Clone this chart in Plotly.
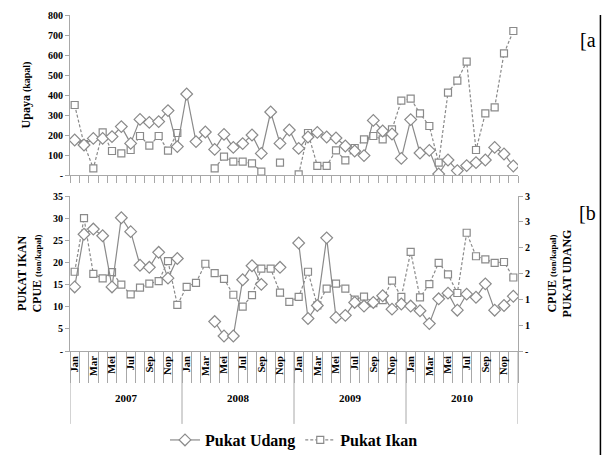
import plotly.graph_objects as go

years = ["2007", "2008", "2009", "2010"]
month_labels = ["Jan", "Mar", "Mei", "Jul", "Sep", "Nop"]

# Upaya (kapal) per month, Jan 2007 .. Des 2010
effort_udang = [175, 150, 183, 183, 192, 242, 158, 278, 263, 267, 322, 142,
                405, 167, 215, 128, 203, 138, 157, 200, 108, 315, 158, 225,
                133, 190, 213, 190, 185, 145, 120, 97, 273, 220, 205, 83,
                277, 110, 123, 5, 75, 22, 47, 62, 75, 138, 105, 45]
effort_ikan = [350, 155, 33, 213, 120, 108, 125, 195, 147, 195, 122, 210,
               None, None, None, 33, 92, 67, 67, 58, 17, None, 62, None,
               3, 210, 46, 46, 123, 73, 135, 178, 195, 178, 228, 372,
               382, 308, 245, 62, 412, 472, 567, 125, 308, 338, 608, 720]

# CPUE (ton/kapal)
cpue_ikan = [17.9, 30.0, 17.4, 16.4, 17.8, 15.0, 12.8, 14.3, 15.2, 15.8, 20.3, 10.4,
             14.5, 15.4, 19.7, 17.6, 16.3, 12.7, 10.0, 12.6, 18.6, 18.6, 13.2, 11.1,
             12.2, 17.9, 10.3, 14.1, 15.2, 14.1, 11.6, 12.3, 10.8, 11.5, 15.9, 12.2,
             22.4, 12.1, 15.1, 19.9, 17.3, 13.1, 26.7, 21.4, 20.7, 19.9, 20.1, 16.6]
cpue_udang = [1.24, 2.26, 2.36, 2.23, 1.24, 2.58, 2.31, 1.66, 1.62, 1.91, 1.41, 1.79,
              None, None, None, 0.57, 0.29, 0.29, 1.38, 1.65, 1.29, None, 1.62, None,
              2.09, 0.63, 0.88, 2.19, 0.65, 0.69, 0.94, 0.87, 0.94, 1.07, 0.81, 0.91,
              0.87, 0.78, 0.53, 1.01, 1.12, 0.79, 1.10, 1.04, 1.30, 0.79, 0.88, 1.06]

left_ticks_top = [0, 100, 200, 300, 400, 500, 600, 700, 800]
left_ticks_bot = [0, 5, 10, 15, 20, 25, 30, 35]
right_ticks = [0, 0.5, 1.0, 1.5, 2.0, 2.5, 3.0]
right_ticktext = ["-", "1", "1", "2", "2", "3", "3"]

n = len(effort_udang)
x = list(range(n))
GRAY = "#8a8a8a"
AX = "#a8a8a8"
SERIF = "Liberation Serif"

fig = go.Figure()

def udang(xv, yv, xa, ya, show):
    return go.Scatter(x=xv, y=yv, xaxis=xa, yaxis=ya, mode="lines+markers",
                      name="Pukat Udang", showlegend=show, legendgroup="u",
                      line=dict(color=GRAY, width=1.2),
                      marker=dict(symbol="diamond", size=9, color="white",
                                  line=dict(color=GRAY, width=1.2)))

def ikan(xv, yv, xa, ya, show):
    return go.Scatter(x=xv, y=yv, xaxis=xa, yaxis=ya, mode="lines+markers",
                      name="Pukat Ikan", showlegend=show, legendgroup="i",
                      line=dict(color=GRAY, width=1.2, dash="3px,2px"),
                      marker=dict(symbol="square", size=7, color="white",
                                  line=dict(color=GRAY, width=1.2)))

fig.add_trace(ikan(x, effort_ikan, "x", "y", False))
fig.add_trace(udang(x, effort_udang, "x", "y", True))
fig.add_trace(ikan(x, cpue_ikan, "x2", "y2", True))
fig.add_trace(udang(x, cpue_udang, "x2", "y3", False))

tickfont = dict(family=SERIF, size=10, color="black", weight="bold")

month_vals = [i for i in x if i % 2 == 0]
month_text = [month_labels[(i % 12) // 2] for i in month_vals]

common_x = dict(range=[-0.5, n - 0.5], showgrid=False, zeroline=False,
                showline=True, linecolor=AX, linewidth=1, automargin=False)

fig.update_layout(
    width=603, height=455,
    margin=dict(l=70, r=85, t=15, b=104, autoexpand=False),
    plot_bgcolor="white", paper_bgcolor="white",
    font=dict(family=SERIF, color="black"),
    xaxis=dict(**common_x, domain=[0, 1], anchor="y", showticklabels=False,
               ticks="", minor=dict(ticks="outside", tick0=-0.5, dtick=1,
                                    ticklen=7, tickcolor=AX, tickwidth=1)),
    yaxis=dict(domain=[0.5238, 1.0], range=[0, 800], tickvals=left_ticks_top,
               ticktext=["-"] + [str(v) for v in left_ticks_top[1:]],
               showgrid=False, zeroline=False, showline=True, linecolor=AX,
               ticks="outside", ticklen=4, tickcolor=AX, tickfont=tickfont,
               automargin=False,
               title=dict(text="<b>Upaya</b> <span style='font-size:10px'><b>(kapal)</b></span>",
                          font=dict(family=SERIF, size=12), standoff=14)),
    xaxis2=dict(**common_x, domain=[0, 1], anchor="y2", tickvals=month_vals,
                ticktext=month_text, tickangle=-90, ticks="",
                tickfont=dict(family=SERIF, size=10.5, color="black", weight="bold"),
                minor=dict(ticks="outside", tick0=-0.5, dtick=1, ticklen=31,
                           tickcolor=AX, tickwidth=1)),
    yaxis2=dict(domain=[0, 0.4613], range=[0, 35], tickvals=left_ticks_bot,
                ticktext=["-"] + [str(v) for v in left_ticks_bot[1:]],
                showgrid=False, zeroline=False, showline=True, linecolor=AX,
                ticks="outside", ticklen=4, tickcolor=AX, tickfont=tickfont,
                automargin=False,
                title=dict(text="<b>PUKAT IKAN</b><br><b>CPUE</b> <span style='font-size:9px'><b>(ton/kapal)</b></span>",
                           font=dict(family=SERIF, size=12), standoff=8)),
    yaxis3=dict(overlaying="y2", side="right", anchor="x2", range=[0, 3],
                tickvals=right_ticks, ticktext=right_ticktext,
                showgrid=False, zeroline=False, showline=True, linecolor=AX,
                ticks="outside", ticklen=4, tickcolor=AX, tickfont=tickfont,
                automargin=False,
                title=dict(text="<b>CPUE</b> <span style='font-size:9px'><b>(ton/kapal)</b></span><br><b>PUKAT UDANG</b>",
                           font=dict(family=SERIF, size=12), standoff=18)),
    legend=dict(orientation="h", x=0.5, xanchor="center", y=-0.265, yanchor="middle",
                font=dict(family=SERIF, size=16, color="black", weight="bold"),
                traceorder="normal", itemwidth=30, bgcolor="rgba(0,0,0,0)"),
)

# year group dividers and labels
for k in range(len(years) + 1):
    b = k * 12 - 0.5
    fig.add_shape(type="line", xref="x2", yref="paper", x0=b, x1=b,
                  y0=0, y1=-0.217, line=dict(color=AX, width=1))
for k, yr in enumerate(years):
    fig.add_annotation(x=k * 12 + 5.5, xref="x2", y=-0.165, yref="paper",
                       text=yr, showarrow=False,
                       font=dict(family=SERIF, size=11, color="black", weight="bold"))

# panel labels and right border line
fig.add_annotation(x=1.178, xref="paper", xanchor="right", y=0.965, yref="paper",
                   text="[a", showarrow=False,
                   font=dict(family=SERIF, size=20, color="black"))
fig.add_annotation(x=1.178, xref="paper", xanchor="right", y=0.41, yref="paper",
                   text="[b", showarrow=False,
                   font=dict(family=SERIF, size=20, color="black"))
fig.add_shape(type="line", xref="paper", yref="paper", x0=1.184, x1=1.184,
              y0=1.0, y1=-0.31, line=dict(color="black", width=1.5))

fig.write_html("out.html", post_script="document.body.style.margin='0';",
               config={"displayModeBar": False})
